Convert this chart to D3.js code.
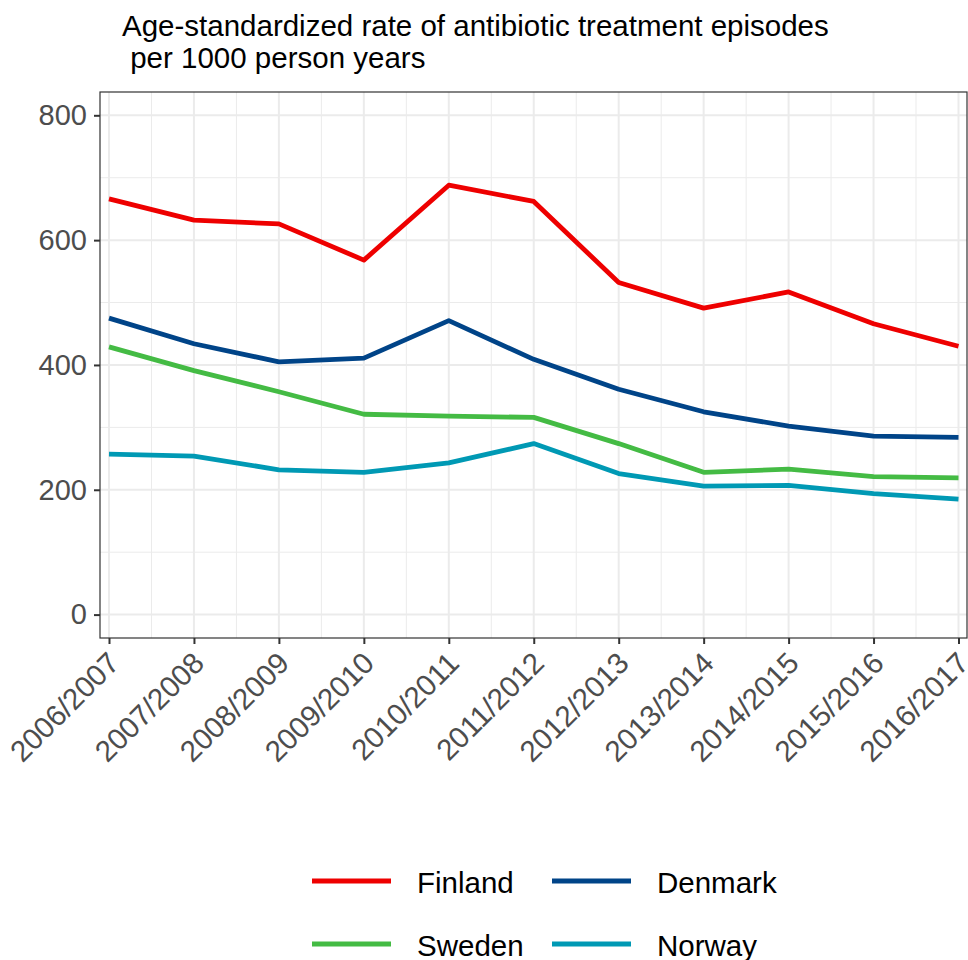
<!DOCTYPE html>
<html><head><meta charset="utf-8">
<script src="https://cdn.jsdelivr.net/npm/d3@7"></script>
<style>body{margin:0;background:#fff}svg{display:block;font-family:"Liberation Sans",Arial,sans-serif}</style>
</head><body><svg id="c" width="968" height="960"></svg>
<script>
const seasons = ["2006/2007","2007/2008","2008/2009","2009/2010","2010/2011","2011/2012","2012/2013","2013/2014","2014/2015","2015/2016","2016/2017"];
const finland = [666,632,626,568,688,662,532,491,517,466,430];
const denmark = [475,434,405,411,471,409,361,325,302,286,284];
const sweden  = [429,391,357,321,318,316,274,228,233,221,219];
const norway  = [257,254,232,228,243,274,226,206,207,194,185];
const yTicks = [0,200,400,600,800];
const yMinor = [100,300,500,700];
const seriesNames = ["Finland","Denmark","Sweden","Norway"];
const seriesColors = ["#EE0000","#004488","#44BB44","#0099B4"];
const seriesData = [finland, denmark, sweden, norway];

const svg = d3.select("#c");
const L = 100, R = 967, T = 92, B = 638;
const x = d3.scalePoint().domain(seasons).range([109, 958.5]);
const y = d3.scaleLinear().domain([0, 800]).range([614.6, 115.3]);

const g = svg.append("g");
const mids = seasons.slice(0,-1).map((s,i)=> (x(s)+x(seasons[i+1]))/2);
g.selectAll(".mx").data(mids).join("line")
 .attr("x1",d=>d).attr("x2",d=>d).attr("y1",T).attr("y2",B)
 .attr("stroke","#EBEBEB").attr("stroke-width",1);
g.selectAll(".my").data(yMinor).join("line")
 .attr("x1",L).attr("x2",R).attr("y1",d=>y(d)).attr("y2",d=>y(d))
 .attr("stroke","#EBEBEB").attr("stroke-width",1);
g.selectAll(".Mx").data(seasons).join("line")
 .attr("x1",d=>x(d)).attr("x2",d=>x(d)).attr("y1",T).attr("y2",B)
 .attr("stroke","#EBEBEB").attr("stroke-width",2);
g.selectAll(".My").data(yTicks).join("line")
 .attr("x1",L).attr("x2",R).attr("y1",d=>y(d)).attr("y2",d=>y(d))
 .attr("stroke","#EBEBEB").attr("stroke-width",2);

const line = d3.line().x((d,i)=>x(seasons[i])).y(d=>y(d));
seriesData.forEach((arr,k)=>{
  svg.append("path").datum(arr).attr("d",line)
    .attr("fill","none").attr("stroke",seriesColors[k]).attr("stroke-width",4.8)
    .attr("stroke-linejoin","round");
});

svg.append("rect").attr("x",L).attr("y",T).attr("width",R-L).attr("height",B-T)
  .attr("fill","none").attr("stroke","#333333").attr("stroke-width",1.2);

const ya = svg.append("g").attr("transform",`translate(${L},0)`)
  .call(d3.axisLeft(y).tickValues(yTicks).tickSize(6).tickPadding(7).tickFormat(d3.format("d")));
ya.select(".domain").remove();
ya.selectAll("line").attr("stroke","#333333").attr("stroke-width",2);
ya.selectAll("text").attr("fill","#4D4D4D").attr("font-size",29).attr("font-family","Liberation Sans, Arial, sans-serif");

const xa = svg.append("g").attr("transform",`translate(0,${B})`)
  .call(d3.axisBottom(x).tickSize(6).tickFormat(""));
xa.select(".domain").remove();
xa.selectAll("line").attr("stroke","#333333").attr("stroke-width",2);
svg.append("g").selectAll("text").data(seasons).join("text")
  .attr("transform",d=>`translate(${x(d)+12},${B+27}) rotate(-45)`)
  .attr("text-anchor","end").attr("fill","#4D4D4D").attr("font-size",29.5)
  .text(d=>d);

const title = svg.append("text").attr("x",122).attr("font-size",29.5).attr("fill","#000");
title.append("tspan").attr("x",122).attr("y",36).text("Age-standardized rate of antibiotic treatment episodes");
title.append("tspan").attr("x",122).attr("y",68).attr("xml:space","preserve").style("white-space","pre").text(" per 1000 person years");

const legPos = [[312,881],[552,881],[312,944],[552,944]];
seriesNames.forEach((n,k)=>{
  const [lx,ly] = legPos[k];
  svg.append("line").attr("x1",lx).attr("x2",lx+79).attr("y1",ly).attr("y2",ly)
    .attr("stroke",seriesColors[k]).attr("stroke-width",5);
  svg.append("text").attr("x",lx+105).attr("y",ly+12).attr("font-size",29.5).attr("fill","#000").text(n);
});
</script></body></html>
